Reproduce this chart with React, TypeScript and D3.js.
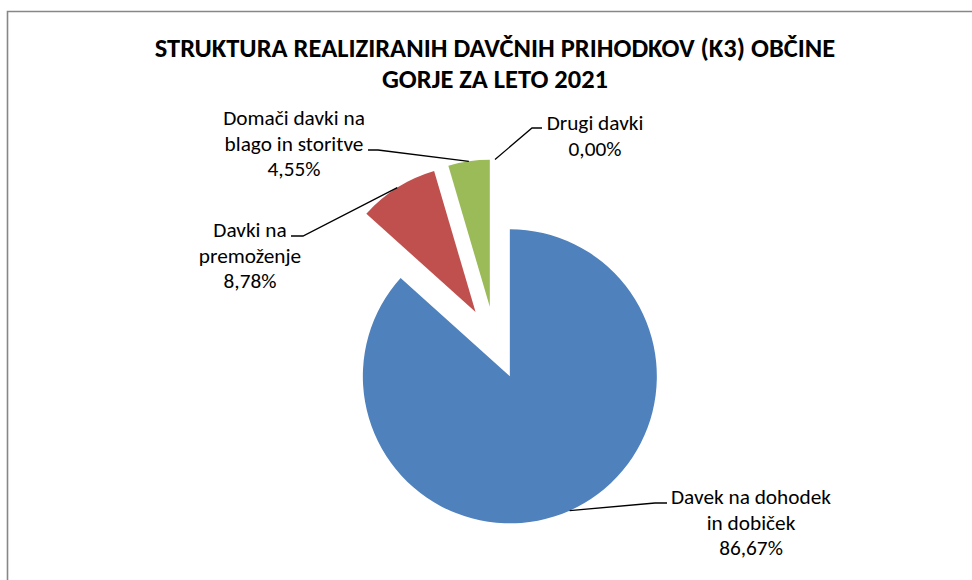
import React from "react";
import * as d3 from "d3";

const titleLines = ["STRUKTURA REALIZIRANIH DAVČNIH PRIHODKOV (K3) OBČINE", "GORJE ZA LETO 2021"];
const categories = ["Davek na dohodek in dobiček", "Davki na premoženje", "Domači davki na blago in storitve", "Drugi davki"];
const labelLines = [["Davek na dohodek", "in dobiček"], ["Davki na", "premoženje"], ["Domači davki na", "blago in storitve"], ["Drugi davki"]];
const values = [86.67, 8.78, 4.55, 0.0];
const percentLabels = ["86,67%", "8,78%", "4,55%", "0,00%"];
const colors = ["#4F81BD", "#C0504D", "#9BBB59", "#8064A2"];

// label layout (leader elbow, leader end, text center)
const labelLayout = [
  { elbow: [655, 503], end: [667, 503], cx: 751, cy: 497 },
  { elbow: [303, 236], end: [291, 236], cx: 250, cy: 230 },
  { elbow: [378, 150], end: [368, 150], cx: 294, cy: 118 },
  { elbow: [532, 128], end: [542, 128], cx: 595, cy: 123 },
];

const W = 972;
const H = 580;
const cx = 495;
const cy = 343;
const R = 147;
const explode = 36.5;
const font = "Calibri, Carlito, Lato, 'Noto Sans', sans-serif";

export default function App() {
  const pie = d3.pie<number>().sort(null).value((d) => d).startAngle(0).endAngle(2 * Math.PI);
  const arcs = pie(values);
  const arcGen = d3.arc<d3.PieArcDatum<number>>().innerRadius(0).outerRadius(R);
  const lineH = 25.5;

  return (
    <svg width={W} height={H} style={{ position: "absolute", left: 0, top: 0, background: "#fff" }}>
      <rect x={0} y={0} width={W} height={H} fill="#fff" />
      <path d={`M7.5,${H + 5} L7.5,11.5 L${W + 5},11.5`} fill="none" stroke="#878787" strokeWidth={1.6} />
      {titleLines.map((t, i) => (
        <text key={i} x={cx} y={57 + i * 31} textAnchor="middle" fontFamily={font} fontWeight="bold" fontSize={26.5} fill="#000">
          {t}
        </text>
      ))}
      {arcs.map((a, i) => {
        const mid = (a.startAngle + a.endAngle) / 2;
        const ox = cx + explode * Math.sin(mid);
        const oy = cy - explode * Math.cos(mid);
        const px = ox + R * Math.sin(mid);
        const py = oy - R * Math.cos(mid);
        const L = labelLayout[i];
        const lines = [...labelLines[i], percentLabels[i]];
        return (
          <g key={categories[i]}>
            {a.endAngle - a.startAngle > 0 && (
              <path d={arcGen(a) || ""} transform={`translate(${ox},${oy})`} fill={colors[i]} />
            )}
            <polyline
              points={`${px},${py} ${L.elbow[0]},${L.elbow[1]} ${L.end[0]},${L.end[1]}`}
              fill="none"
              stroke="#000"
              strokeWidth={1.3}
            />
            <text fontFamily={font} fontSize={21.3} fill="#000" textAnchor="middle">
              {lines.map((ln, j) => (
                <tspan key={j} x={L.cx} y={L.cy + j * lineH} dy="0.35em">
                  {ln}
                </tspan>
              ))}
            </text>
          </g>
        );
      })}
    </svg>
  );
}
